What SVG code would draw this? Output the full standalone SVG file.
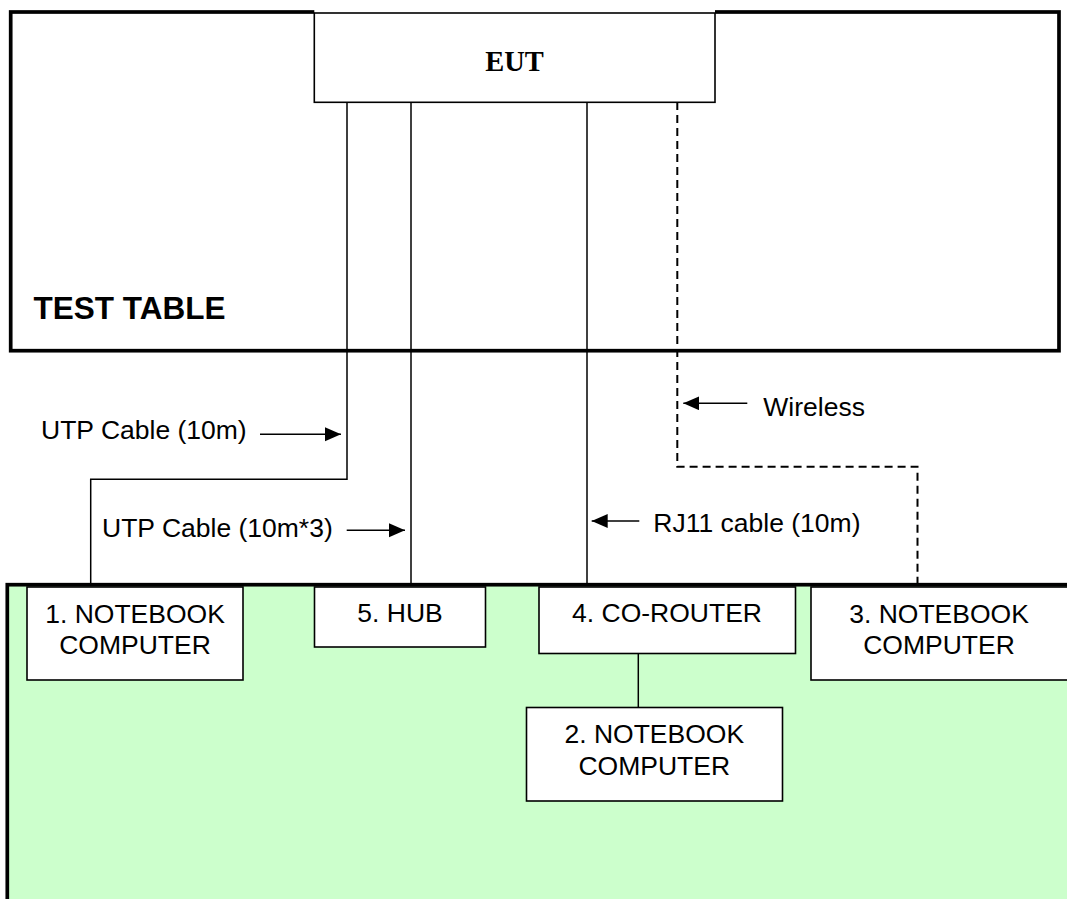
<svg xmlns="http://www.w3.org/2000/svg" width="1067" height="899" viewBox="0 0 1067 899">
  <style>
    .frame { fill: none; stroke: #000; stroke-width: 3.7; }
    .box { fill: #fff; stroke: #000; stroke-width: 1.6; }
    .wire { fill: none; stroke: #000; stroke-width: 1.5; }
    .radio { fill: none; stroke: #000; stroke-width: 2; stroke-dasharray: 8 5; }
    .lbl { font-family: "Liberation Sans", Arial, sans-serif; font-size: 26.5px; fill: #000; }
    .node { font-family: "Liberation Sans", Arial, sans-serif; font-size: 26.5px; fill: #000; text-anchor: middle; }
    .title { font-family: "Liberation Sans", Arial, sans-serif; font-size: 31.5px; font-weight: bold; fill: #000; }
    .eut { font-family: "Liberation Serif", "Times New Roman", serif; font-size: 28.5px; font-weight: bold; fill: #000; text-anchor: middle; }
  </style>
  <defs>
    <marker id="head" markerUnits="userSpaceOnUse" markerWidth="18" markerHeight="16" refX="16" refY="7" orient="auto">
      <path d="M0,0 L16,7 L0,14 Z" fill="#000"/>
    </marker>
  </defs>

  <rect width="1067" height="899" fill="#fff"/>

  <!-- floor area -->
  <g id="floor">
    <rect x="7.3" y="584.7" width="1075" height="330" fill="#CCFFCC" stroke="#000" stroke-width="3.7"/>
  </g>

  <!-- test table -->
  <g id="test-table">
    <rect class="frame" x="10.7" y="12" width="1048.3" height="338.7"/>
    <text class="title" x="33.5" y="319.3">TEST TABLE</text>
  </g>

  <!-- cables -->
  <g id="connectors">
    <polyline class="wire" points="347,102 347,479.3 90.7,479.3 90.7,585"/>
    <line class="wire" x1="411" y1="102" x2="411" y2="585"/>
    <line class="wire" x1="587" y1="102" x2="587" y2="585"/>
    <line class="wire" x1="638.3" y1="653.5" x2="638.3" y2="707.5"/>
    <polyline class="radio" points="677.3,102 677.3,466.7 917.5,466.7 917.5,585"/>
  </g>

  <!-- cable labels -->
  <g id="labels">
    <text class="lbl" x="41" y="439.3">UTP Cable (10m)</text>
    <line class="wire" x1="260" y1="434.3" x2="341" y2="434.3" marker-end="url(#head)"/>
    <text class="lbl" x="102" y="536.5">UTP Cable (10m*3)</text>
    <line class="wire" x1="346.7" y1="530.3" x2="405" y2="530.3" marker-end="url(#head)"/>
    <text class="lbl" x="763.3" y="416">Wireless</text>
    <line class="wire" x1="747.3" y1="403.3" x2="683.3" y2="403.3" marker-end="url(#head)"/>
    <text class="lbl" x="653.3" y="532">RJ11 cable (10m)</text>
    <line class="wire" x1="639.3" y1="521" x2="591.7" y2="521" marker-end="url(#head)"/>
  </g>

  <g id="eut">
    <rect x="314.3" y="9" width="400.7" height="5" fill="#fff"/>
    <rect class="box" x="314.3" y="13" width="400.7" height="89.3"/>
    <text class="eut" x="514.6" y="71">EUT</text>
  </g>

  <g id="notebook-1">
    <rect class="box" x="27" y="587" width="216" height="93"/>
    <text class="node" x="135" y="623">1. NOTEBOOK</text>
    <text class="node" x="135" y="654">COMPUTER</text>
  </g>

  <g id="hub-5">
    <rect class="box" x="314.5" y="587" width="171" height="60"/>
    <text class="node" x="400" y="621.7">5. HUB</text>
  </g>

  <g id="co-router-4">
    <rect class="box" x="539" y="587" width="256.5" height="66.5"/>
    <text class="node" x="667" y="622.3">4. CO-ROUTER</text>
  </g>

  <g id="notebook-3">
    <rect class="box" x="811" y="587" width="265" height="93"/>
    <text class="node" x="939" y="622.7">3. NOTEBOOK</text>
    <text class="node" x="939" y="653.5">COMPUTER</text>
  </g>

  <g id="notebook-2">
    <rect class="box" x="526.5" y="707.5" width="256" height="93.5"/>
    <text class="node" x="654.3" y="742.7">2. NOTEBOOK</text>
    <text class="node" x="654.3" y="775">COMPUTER</text>
  </g>
</svg>
